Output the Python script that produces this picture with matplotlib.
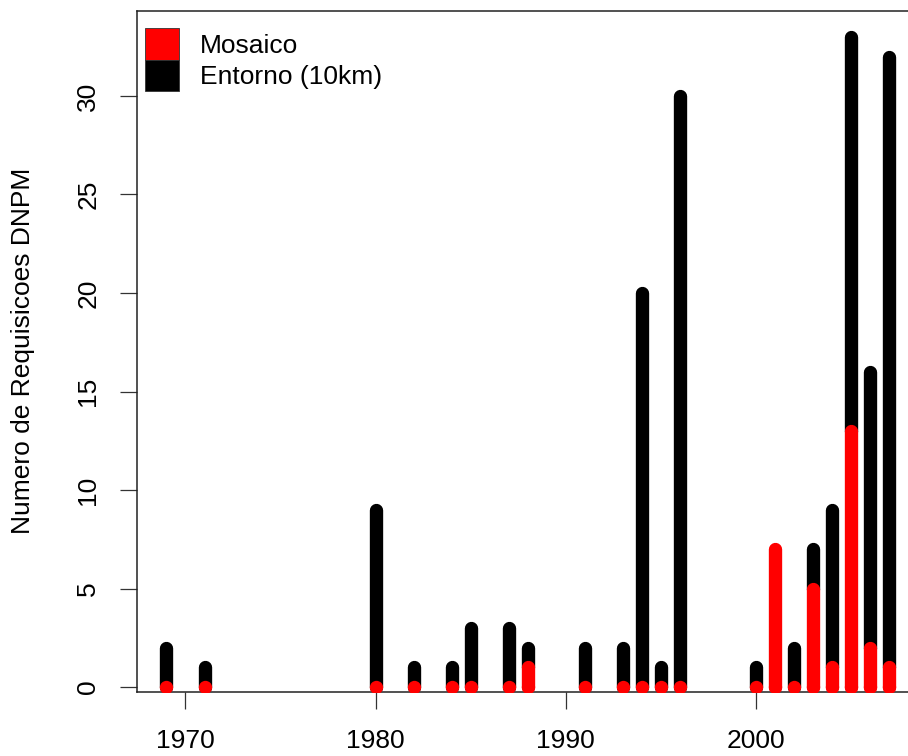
import numpy as np
import matplotlib.pyplot as plt
from matplotlib.patches import Patch

# Dati
anos = [1969, 1971, 1980, 1982, 1984, 1985, 1987, 1988, 1991, 1993, 1994,
        1995, 1996, 2000, 2001, 2002, 2003, 2004, 2005, 2006, 2007]
entorno = [2, 1, 9, 1, 1, 3, 3, 2, 2, 2, 20,
           1, 30, 1, 7, 2, 7, 9, 33, 16, 32]
mosaico = [0, 0, 0, 0, 0, 0, 0, 1, 0, 0, 0,
           0, 0, 0, 7, 0, 5, 1, 13, 2, 1]
yticks = [0, 5, 10, 15, 20, 25, 30]
xticks = [1970, 1980, 1990, 2000]

plt.rcParams['font.family'] = ['Liberation Sans', 'DejaVu Sans']

fig = plt.figure(figsize=(9.08, 7.56), dpi=100)
ax = fig.add_axes([137/908, 64/756, 780/908, 681/756])

lw = 9.6
x = np.array(anos)
ent = np.array(entorno)
mos = np.array(mosaico)

# barre tipo R type="h": il nero resta visibile solo sopra il rosso
sel = ent > mos
ax.vlines(x[sel], mos[sel], ent[sel], colors='black', linewidth=lw,
          capstyle='round', zorder=2)
ax.vlines(x[mos > 0], 0, mos[mos > 0], colors='red', linewidth=lw,
          capstyle='round', zorder=3)
ax.scatter(x, np.zeros_like(x), s=lw**2, color='red', linewidth=0, zorder=4)

ax.set_xlim(1967.45, 2008.47)
ax.set_ylim(-0.25, 34.31)
ax.set_xticks(xticks)
ax.set_yticks(yticks)

for s in ['left', 'top', 'bottom', 'right']:
    ax.spines[s].set_linewidth(1.1)
    ax.spines[s].set_color('#222222')

ax.tick_params(axis='both', direction='out', length=12.5, width=0.9,
               color='#333333', labelsize=19, pad=14)
ax.tick_params(axis='y', labelrotation=90)
for lab in ax.get_yticklabels():
    lab.set_va('center')

fig.text(23/908, 1 - 351/756, 'Numero de Requisicoes DNPM', rotation=90,
         ha='center', va='center', fontsize=19)

handles = [Patch(facecolor='red', edgecolor='#333333', linewidth=0.6),
           Patch(facecolor='black', edgecolor='#333333', linewidth=0.6)]
fig.legend(handles, ['Mosaico', 'Entorno (10km)'], loc='upper left',
           bbox_to_anchor=(145/908, 1 - 28/756), bbox_transform=fig.transFigure,
           frameon=False, fontsize=19, borderpad=0, borderaxespad=0,
           labelspacing=0, handlelength=1.29, handleheight=1.47,
           handletextpad=0.8)

fig.savefig('out.png', dpi=100)
